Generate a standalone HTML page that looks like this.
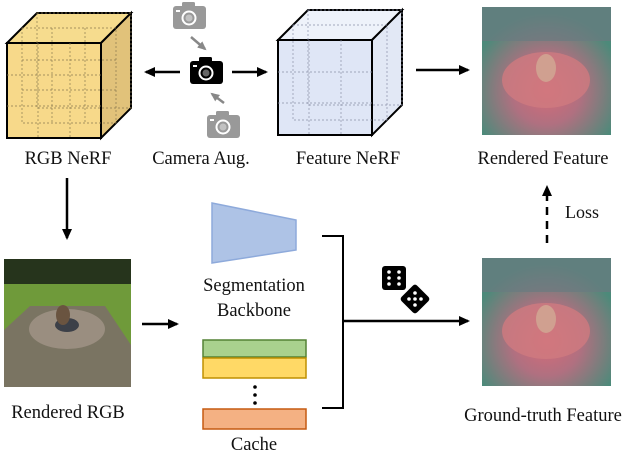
<!DOCTYPE html>
<html><head><style>
html,body{margin:0;padding:0;background:#fff}
svg{display:block}
</style></head><body>
<svg width="640" height="451" viewBox="0 0 640 451" xmlns="http://www.w3.org/2000/svg">
<defs>
<marker id="ah" markerWidth="12" markerHeight="12" refX="9" refY="6" orient="auto" markerUnits="userSpaceOnUse">
<path d="M0,1 L11,6 L0,11 z" fill="#000"/></marker>
<marker id="ahg" markerWidth="10" markerHeight="10" refX="7" refY="5" orient="auto" markerUnits="userSpaceOnUse">
<path d="M0,1 L9,5 L0,9 z" fill="#888"/></marker>
<radialGradient id="feat" cx="50%" cy="65%" r="60%">
<stop offset="0" stop-color="#d86a78"/><stop offset="0.45" stop-color="#b07080"/><stop offset="1" stop-color="#4c8a7a"/></radialGradient>
<g id="cam"><rect x="0" y="5" width="33" height="23" rx="3"/><rect x="9" y="1" width="13" height="6" rx="1.5"/>
<circle cx="16" cy="17" r="7.5" fill="#fff"/><circle cx="16" cy="17" r="5.5"/><circle cx="16" cy="17" r="3.5" fill="#fff" opacity="0.4"/><rect x="3" y="9" width="4" height="2" fill="#fff"/></g>
</defs>

<polygon points="7,43 37,13 131,13 101,43" fill="#f6dc8e" stroke="#000" stroke-width="2"/>
<polygon points="101,43 131,13 131,108 101,138" fill="#e1c27a" stroke="#000" stroke-width="2"/>
<rect x="7" y="43" width="94" height="95" fill="#f7d98a" stroke="#000" stroke-width="2"/>
<g stroke="#8a7a50" stroke-width="0.7" stroke-dasharray="2,2" fill="none">
<line x1="38" y1="43" x2="38" y2="138"/><line x1="70" y1="43" x2="70" y2="138"/>
<line x1="7" y1="75" x2="101" y2="75"/><line x1="7" y1="106" x2="101" y2="106"/>
<rect x="22" y="28" width="94" height="95"/><rect x="37" y="13" width="94" height="95"/>
<line x1="52" y1="28" x2="52" y2="123"/><line x1="85" y1="28" x2="85" y2="123"/>
<line x1="22" y1="60" x2="116" y2="60"/><line x1="22" y1="90" x2="116" y2="90"/>
</g>

<polygon points="278,40 308,10 402,10 372,40" fill="#eef2fa" stroke="#000" stroke-width="2"/>
<polygon points="372,40 402,10 402,105 372,135" fill="#e2e8f5" stroke="#000" stroke-width="2"/>
<rect x="278" y="40" width="94" height="95" fill="#dfe6f6" stroke="#000" stroke-width="2"/>
<g stroke="#8a90a8" stroke-width="0.7" stroke-dasharray="2,2" fill="none">
<line x1="309" y1="40" x2="309" y2="135"/><line x1="341" y1="40" x2="341" y2="135"/>
<line x1="278" y1="72" x2="372" y2="72"/><line x1="278" y1="103" x2="372" y2="103"/>
<rect x="293" y="25" width="94" height="95"/><rect x="308" y="10" width="94" height="95"/>
</g>

<g fill="#999"><use href="#cam" x="173" y="1"/><use href="#cam" x="207" y="110"/></g>
<g fill="#000"><use href="#cam" x="190" y="56"/></g>
<line x1="191" y1="37" x2="205" y2="49" stroke="#888" stroke-width="2.5" marker-end="url(#ahg)"/>
<line x1="224" y1="103" x2="212" y2="94" stroke="#888" stroke-width="2.5" marker-end="url(#ahg)"/>

<line x1="180" y1="72" x2="146" y2="72" stroke="#000" stroke-width="2.5" marker-end="url(#ah)"/>
<line x1="232" y1="72" x2="266" y2="72" stroke="#000" stroke-width="2.5" marker-end="url(#ah)"/>
<line x1="416" y1="70" x2="468" y2="70" stroke="#000" stroke-width="2.5" marker-end="url(#ah)"/>
<line x1="67" y1="178" x2="67" y2="238" stroke="#000" stroke-width="2.5" marker-end="url(#ah)"/>

<g>
<rect x="482" y="7" width="129" height="128" fill="url(#feat)"/>
<rect x="482" y="7" width="129" height="34" fill="#6a7a80" opacity="0.7"/>
<ellipse cx="546" cy="80" rx="44" ry="28" fill="#d07a80" opacity="0.8"/>
<ellipse cx="546" cy="68" rx="10" ry="14" fill="#d0a090"/>
</g>
<g>
<rect x="482" y="258" width="129" height="128" fill="url(#feat)"/>
<rect x="482" y="258" width="129" height="34" fill="#6a7a80" opacity="0.7"/>
<ellipse cx="546" cy="331" rx="44" ry="28" fill="#d07a80" opacity="0.8"/>
<ellipse cx="546" cy="319" rx="10" ry="14" fill="#d0a090"/>
</g>

<rect x="4" y="259" width="127" height="128" fill="#7a7462"/>
<rect x="4" y="259" width="127" height="25" fill="#26341c"/>
<rect x="4" y="284" width="127" height="22" fill="#6f9a3a"/>
<polygon points="4,306 30,306 4,330" fill="#6f9a3a"/>
<polygon points="105,306 131,306 131,345" fill="#6f9a3a"/>
<ellipse cx="67" cy="329" rx="38" ry="20" fill="#9a8e80"/>
<ellipse cx="67" cy="325" rx="12" ry="7" fill="#3c4048"/>
<ellipse cx="63" cy="315" rx="7" ry="10" fill="#6a5440"/>

<polygon points="212,203 296,220 296,250 212,263" fill="#aec3e6" stroke="#8eaadb" stroke-width="1.5"/>
<rect x="203" y="340" width="103" height="17" fill="#a9d18e" stroke="#548235" stroke-width="1.5"/>
<rect x="203" y="358" width="103" height="20" fill="#ffd966" stroke="#bf9000" stroke-width="1.5"/>
<g fill="#000"><circle cx="255" cy="387" r="1.8"/><circle cx="255" cy="395" r="1.8"/><circle cx="255" cy="403" r="1.8"/></g>
<rect x="203" y="409" width="103" height="20" fill="#f4b183" stroke="#c55a11" stroke-width="1.5"/>

<line x1="142" y1="324" x2="177" y2="324" stroke="#000" stroke-width="2.5" marker-end="url(#ah)"/>
<polyline points="322,236 343,236 343,408 322,408" fill="none" stroke="#000" stroke-width="2"/>
<line x1="343" y1="321" x2="468" y2="321" stroke="#000" stroke-width="2.5" marker-end="url(#ah)"/>

<rect x="382" y="266" width="24" height="24" rx="3" fill="#000"/>
<g fill="#fff"><circle cx="389" cy="272" r="1.8"/><circle cx="399" cy="272" r="1.8"/><circle cx="389" cy="278" r="1.8"/><circle cx="399" cy="278" r="1.8"/><circle cx="389" cy="284" r="1.8"/><circle cx="399" cy="284" r="1.8"/></g>
<rect x="404" y="288" width="22" height="22" rx="3" fill="#000" transform="rotate(45 415 299)"/>
<g fill="#fff"><circle cx="415" cy="299" r="1.8"/><circle cx="409" cy="299" r="1.8"/><circle cx="421" cy="299" r="1.8"/><circle cx="415" cy="293" r="1.8"/><circle cx="415" cy="305" r="1.8"/></g>

<line x1="547" y1="243" x2="547" y2="187" stroke="#000" stroke-width="2.5" stroke-dasharray="8,6" marker-end="url(#ah)"/>

<g font-family="'Liberation Serif','Times New Roman',Times,serif" fill="#111">
<text x="565" y="218" font-size="18">Loss</text>
<g font-size="18.5" text-anchor="middle">
<text x="68" y="164">RGB NeRF</text>
<text x="201" y="164">Camera Aug.</text>
<text x="348" y="164">Feature NeRF</text>
<text x="543" y="164">Rendered Feature</text>
<text x="254" y="291">Segmentation</text>
<text x="254" y="316">Backbone</text>
<text x="68" y="418">Rendered RGB</text>
<text x="543" y="421">Ground-truth Feature</text>
<text x="254" y="450">Cache</text>
</g>
</g>
</svg>
</body></html>
